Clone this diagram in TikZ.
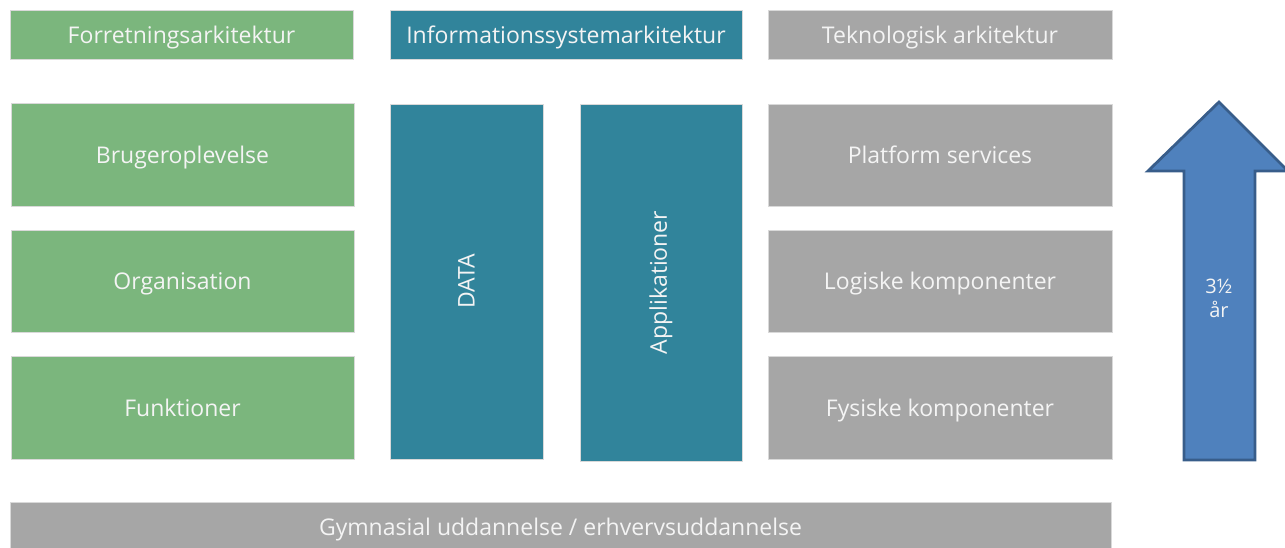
\documentclass[tikz,border=0pt]{standalone}
\usepackage{fontspec}
\setmainfont{Open Sans}
\definecolor{grn}{HTML}{7BB67D}
\definecolor{teal}{HTML}{31849B}
\definecolor{gry}{HTML}{A6A6A6}
\definecolor{arrfill}{HTML}{4F81BD}
\definecolor{arrline}{HTML}{385D8A}
\definecolor{txt}{HTML}{F4F4F4}
\begin{document}
\begin{tikzpicture}[x=1pt,y=-1pt,
  lbl/.style={text=txt, font=\fontsize{23}{26}\selectfont},
  box/.style={draw=white!85!black, line width=0.6pt, inner sep=0pt, lbl,
    text height=17pt, text depth=0pt},
  gbox/.style={box, fill=grn},
  tbox/.style={box, fill=teal},
  ybox/.style={box, fill=gry}]
\useasboundingbox (0,0) rectangle (1285,547);
% header row
\node[gbox, minimum width=343pt, minimum height=49pt] (fa) at (181.5,34.5) {Forretningsarkitektur};
\node[tbox, minimum width=352pt, minimum height=49pt] (isa) at (566,34.5) {Informationssystemarkitektur};
\node[ybox, minimum width=344pt, minimum height=49pt] (ta) at (940,34.5) {Teknologisk arkitektur};
% green column
\node[gbox, minimum width=343pt, minimum height=103pt] (bo) at (182.5,154.5) {Brugeroplevelse};
\node[gbox, minimum width=343pt, minimum height=102pt] (org) at (182.5,281) {Organisation};
\node[gbox, minimum width=343pt, minimum height=103pt] (fun) at (182.5,407.5) {Funktioner};
% teal columns
\node[tbox, minimum width=153pt, minimum height=355pt] (data) at (466.5,281.5) {};
\node[lbl, rotate=90] (datat) at (data.center) {DATA};
\node[tbox, minimum width=162pt, minimum height=357pt] (app) at (661,282.5) {};
\node[lbl, rotate=90] (appt) at (app.center) {Applikationer};
% gray column
\node[ybox, minimum width=344pt, minimum height=102pt] (ps) at (940,155) {Platform services};
\node[ybox, minimum width=344pt, minimum height=102pt] (lk) at (940,281) {Logiske komponenter};
\node[ybox, minimum width=344pt, minimum height=103pt] (fk) at (940,407.5) {Fysiske komponenter};
% bottom bar
\node[ybox, minimum width=1101pt, minimum height=50pt] (gym) at (560.5,527) {Gymnasial uddannelse / erhvervsuddannelse};
% arrow
\draw[fill=arrfill, draw=arrline, line width=2.8pt, line join=miter]
  (1219,102) -- (1288,171) -- (1255,171) -- (1255,460) -- (1184,460) -- (1184,171) -- (1148,171) -- cycle;
\node[text=txt, align=center, font=\fontsize{20}{24}\selectfont] (yrs) at (1219,298) {3½\\år};
\end{tikzpicture}
\end{document}
